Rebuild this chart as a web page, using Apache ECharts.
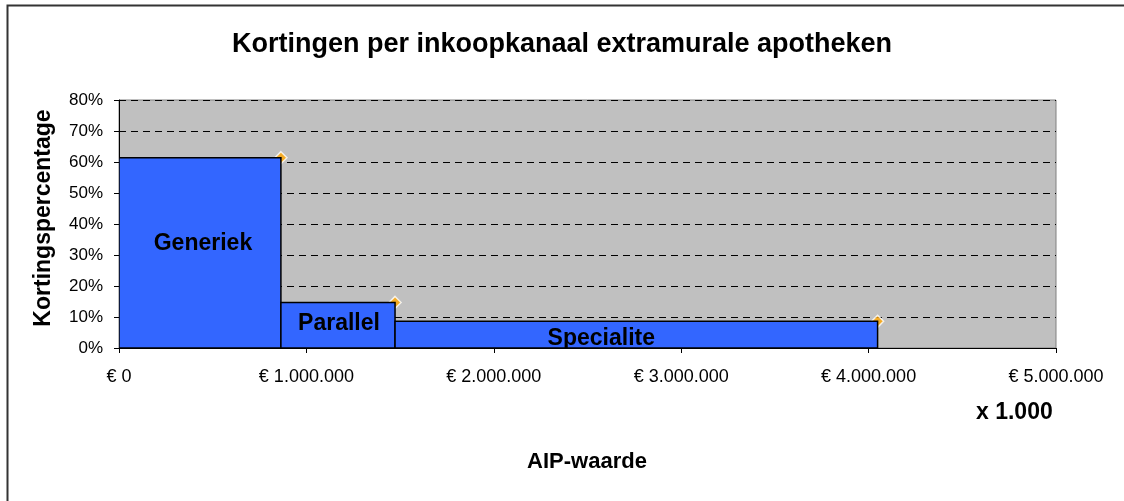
<!DOCTYPE html>
<html lang="nl">
	<head>
		<meta charset="UTF-8" />
		<title>Kortingen per inkoopkanaal</title>
		<style>
			html, body { margin: 0; padding: 0; background: #fff; }
			#chart { width: 1124px; height: 501px; }
		</style>
	</head>
	<body>
		<div id="chart"></div>
		<script src="https://cdn.jsdelivr.net/npm/echarts@6/dist/echarts.min.js"></script>
		<script>
			// inkoopkanalen, AIP-waarde (x 1.000) van begin en eind van elke balk, korting in %
			const channels = ["Generiek", "Parallel", "Specialite"];
			const aipStart = [0, 864000, 1473000];
			const aipEnd = [864000, 1473000, 4048000];
			const discountPct = [61.4, 14.7, 8.6];
			const xTicks = [0, 1000000, 2000000, 3000000, 4000000, 5000000];

			const font = "Liberation Sans, Arial, sans-serif";
			// handmatig geplaatste labels, zoals in het origineel
			const labelShift = [[3, -9], [1, -2], [-35, 4]];

			const myChart = echarts.init(document.getElementById("chart"));

			function euro(v) {
				return "€ " + String(v).replace(/\B(?=(\d{3})+(?!\d))/g, ".");
			}

			const bars = channels.map((name, i) => [aipStart[i], aipEnd[i], discountPct[i], name]);
			const corners = channels.map((name, i) => [aipEnd[i], discountPct[i]]);

			myChart.setOption({
				animation: false,
				title: {
					text: "Kortingen per inkoopkanaal extramurale apotheken",
					left: "center",
					top: 26,
					textStyle: { fontFamily: font, fontSize: 27, fontWeight: "bold", color: "#000" },
				},
				grid: { left: 119, top: 100, right: 68, bottom: 153, show: true, backgroundColor: "#C0C0C0", borderColor: "#808080", borderWidth: 1 },
				xAxis: {
					type: "value",
					min: 0,
					max: 5000000,
					interval: 1000000,
					axisLine: { show: true, lineStyle: { color: "#000", width: 1 } },
					axisTick: { show: true, length: 5, lineStyle: { color: "#000" } },
					axisLabel: { margin: 20, fontFamily: font, fontSize: 18, color: "#000", formatter: (v) => euro(v), customValues: xTicks },
					splitLine: { show: false },
				},
				yAxis: {
					type: "value",
					min: 0,
					max: 80,
					interval: 10,
					axisLine: { show: true, lineStyle: { color: "#000", width: 1 } },
					axisTick: { show: true, length: 5, lineStyle: { color: "#000" } },
					axisLabel: { margin: 16, fontFamily: font, fontSize: 17, color: "#000", formatter: "{value}%" },
					splitLine: { show: true, lineStyle: { color: "#000", type: [7, 5], width: 1 } },
				},
				graphic: [
					{ type: "rect", shape: { x: 7.5, y: 5.5, width: 1140, height: 520 }, style: { fill: "none", stroke: "#333", lineWidth: 2 }, silent: true },
					{ type: "text", x: 44, y: 218, rotation: Math.PI / 2, style: { text: "Kortingspercentage", font: "bold 23px " + font, fill: "#000", align: "center", verticalAlign: "middle" } },
					{ type: "text", x: 976, y: 413, style: { text: "x 1.000", font: "bold 23px " + font, fill: "#000", verticalAlign: "middle" } },
					{ type: "text", x: 587, y: 462, style: { text: "AIP-waarde", font: "bold 22px " + font, fill: "#000", align: "center", verticalAlign: "middle" } },
				],
				series: [
					{
						type: "scatter",
						data: corners,
						symbol: "diamond",
						symbolSize: 12,
						z: 1,
						itemStyle: { color: "#FFA500", borderColor: "#fff", borderWidth: 1.5 },
					},
					{
						type: "custom",
						z: 3,
						clip: true,
						data: bars,
						encode: { x: [0, 1], y: 2 },
						renderItem: function (params, api) {
							const i = params.dataIndex;
							const topLeft = api.coord([api.value(0), api.value(2)]);
							const bottomRight = api.coord([api.value(1), 0]);
							return {
								type: "rect",
								shape: {
									x: topLeft[0],
									y: topLeft[1],
									width: bottomRight[0] - topLeft[0],
									height: bottomRight[1] - topLeft[1],
								},
								style: { fill: "#3366FF", stroke: "#000", lineWidth: 1.5 },
								textContent: {
									style: { text: channels[i], font: "bold 23px " + font, fill: "#000" },
								},
								textConfig: { position: "inside", offset: labelShift[i] },
							};
						},
					},
				],
			});
		</script>
	</body>
</html>
